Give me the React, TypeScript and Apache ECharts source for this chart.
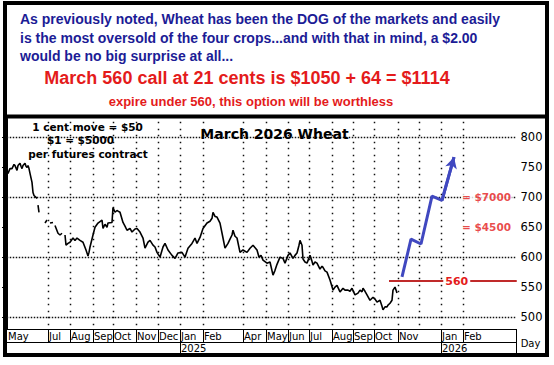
import React, { useEffect, useRef } from 'react';
import * as echarts from 'echarts';

// ---- data ----
const monthLabels = ['May', 'Jul', 'Aug', 'Sep', 'Oct', 'Nov', 'Dec', 'Jan', 'Feb', 'Apr', 'May', 'Jun', 'Jul', 'Aug', 'Sep', 'Oct', 'Nov', 'Jan', 'Feb'];
const monthStarts = [0, 41, 63, 86, 106, 129, 151, 173, 196, 236, 259, 281, 302, 325, 346, 367, 391, 434, 456];
const gridMonths = [41, 63, 86, 106, 129, 151, 173, 196, 236, 259, 281, 302, 325, 346, 367, 391, 412, 434, 456];
const yearLabels = ['2025', '2026'];
const yearStarts = [173, 434];
const priceTicks = [500, 550, 600, 650, 700, 750, 800];
const minorTicks = [480, 490, 500, 510, 520, 530, 540, 550, 560, 570, 580, 590, 600, 610, 620, 630, 640, 650, 660, 670, 680, 690, 700, 710, 720, 730, 740, 750, 760, 770, 780, 790, 800, 810, 820, 830];
const gridPrices = [500, 600, 700, 800];

// trading-day index and price (cents); null = no trade printed (thin early market)
const dayIdx = [0, 1, 3, 5, 7, 8, 10, 11, 13, 14, 15, 16, 18, 19, 20, 21, 22, 23, 25, 26, 27, 29, 30, 30, 31, 32, 33, 36, 37, 38, 40, 41, 43, 46, 47, 48, 51, 53, 55, 56, 58, 59, 61, 63, 66, 68, 70, 73, 76, 79, 81, 82, 83, 86, 88, 91, 95, 96, 98, 100, 101, 105, 106, 108, 110, 111, 113, 116, 118, 120, 123, 125, 128, 130, 133, 136, 138, 141, 143, 146, 148, 150, 153, 156, 158, 161, 165, 168, 171, 175, 178, 181, 185, 188, 190, 193, 196, 200, 203, 205, 206, 208, 210, 213, 216, 218, 221, 223, 225, 226, 228, 230, 233, 236, 240, 243, 246, 250, 252, 254, 256, 260, 263, 266, 268, 270, 273, 276, 278, 281, 283, 286, 288, 290, 292, 293, 295, 296, 298, 300, 303, 305, 306, 308, 310, 313, 315, 316, 318, 320, 323, 326, 328, 330, 333, 336, 338, 341, 343, 345, 348, 351, 353, 355, 356, 358, 360, 363, 366, 368, 370, 373, 375, 376, 378, 380, 381, 383, 385, 386, 388, 389, 390];
const settle = [742, 740, 748, 748, 755, 753, 745, 753, 757, 752, 748, 753, 757, 752, 750, 753, 748, 740, 725, 708, 703, 700, 698, null, 687, 675, null, 662, null, 657, 662, null, 657, 658, null, 653, 640, 637, 640, null, 637, 620, 623, 625, 632, 628, 632, 628, 625, 612, 602, 608, 617, 637, 650, 657, 662, 648, 655, 650, 657, 658, 683, 675, 678, 677, 675, 658, 652, 645, 648, 642, 647, 648, 642, 632, 615, 625, 628, 620, 617, 608, 600, 617, 623, 612, 603, 598, 607, 608, 600, 615, 623, 632, 623, 633, 648, 657, 660, 665, 675, 668, 667, 657, 632, 615, 623, 630, 637, 645, 635, 632, 608, 612, 608, 615, 620, 612, 600, 603, 595, 590, 592, 570, 578, 588, 600, 598, 590, 603, 607, 598, 603, 607, 620, 628, 620, 597, 592, 590, 603, 593, 587, 592, 590, 580, 585, 583, 577, 575, 562, 545, 550, 553, 542, 548, 545, 545, 543, 548, 537, 540, 545, 542, 548, 543, 537, 528, 533, 530, 525, 528, 518, 512, 517, 517, 520, 523, 528, 545, 550, 545, 540];

const projIdx = [395, 404, 414, 425, 435, 447];
const projVal = [567, 630, 622, 702, 695, 767];

const strike = 560;
const strikeFrom = 382;
const costLevels = [700, 650];
const costLabels = ['= $7000', '= $4500'];

const X_MAX = 509.5;
const Y_MIN = 480;
const Y_MAX = 831.67;

export default function App() {
  const ref = useRef<HTMLDivElement>(null);
  useEffect(() => {
    document.body.style.margin = '0';
    const chart = echarts.init(ref.current!, null, { renderer: 'svg' });
    const DJ = 'DejaVu Sans';
    const LS = 'Liberation Sans, Arial, sans-serif';
    const RED = '#e41b1b';
    const BLUE_TXT = '#1c1c96';
    const ARROW = '#4048c0';

    // dotted guide drawn as a row/column of small squares
    const dots = (x1: number, y1: number, x2: number, y2: number, step: number) => {
      const children: any[] = [];
      const len = Math.hypot(x2 - x1, y2 - y1);
      const n = Math.floor(len / step);
      for (let k = 0; k <= n; k++) {
        const t = n === 0 ? 0 : (k * step) / len;
        children.push({
          type: 'rect',
          shape: { x: Math.floor(x1 + (x2 - x1) * t) - 0.25, y: Math.floor(y1 + (y2 - y1) * t) - 0.25, width: 1.5, height: 1.5 },
          style: { fill: '#111' },
        });
      }
      return { type: 'group', children };
    };

    const option: any = {
      animation: false,
      grid: { left: 7, top: 118.5, width: X_MAX, height: 210.5, containLabel: false },
      xAxis: [
        {
          type: 'value', min: 0, max: X_MAX, position: 'bottom',
          axisLine: { show: true, lineStyle: { color: '#000', width: 1 } },
          axisTick: { show: true, customValues: monthStarts.slice(1), length: 13, inside: false, lineStyle: { color: '#000', width: 1 } },
          axisLabel: {
            show: true, customValues: monthStarts,
            formatter: (v: number) => monthLabels[monthStarts.indexOf(v)] ?? '',
            align: 'left', margin: 2, padding: [0, 0, 0, 1],
            fontFamily: DJ, fontSize: 10, color: '#000',
          },
          splitLine: { show: false },
        },
        {
          type: 'value', min: 0, max: X_MAX, position: 'bottom', offset: 13,
          axisLine: { show: true, lineStyle: { color: '#000', width: 1 } },
          axisTick: { show: true, customValues: yearStarts, length: 11, inside: false, lineStyle: { color: '#000', width: 1 } },
          axisLabel: {
            show: true, customValues: yearStarts,
            formatter: (v: number) => yearLabels[yearStarts.indexOf(v)] ?? '',
            align: 'left', margin: 1, padding: [0, 0, 0, 1],
            fontFamily: DJ, fontSize: 10, color: '#000',
          },
          splitLine: { show: false },
        },
      ],
      yAxis: [
        {
          type: 'value', min: Y_MIN, max: Y_MAX, position: 'right',
          axisLine: { show: true, lineStyle: { color: '#000', width: 1 } },
          axisTick: { show: true, inside: true, length: 5, customValues: priceTicks, lineStyle: { color: '#000' } },
          axisLabel: { show: true, customValues: priceTicks, margin: 4, fontFamily: DJ, fontSize: 11.5, color: '#000' },
          splitLine: { show: false },
        },
        {
          type: 'value', min: Y_MIN, max: Y_MAX, position: 'right',
          axisLine: { show: false },
          axisTick: { show: true, inside: true, length: 3, customValues: minorTicks, lineStyle: { color: '#000' } },
          axisLabel: { show: false },
          splitLine: { show: false },
        },
      ],
      series: [
        {
          type: 'custom', name: 'hgrid', z: 2, silent: true,
          data: gridPrices.map((v) => [0, v]),
          renderItem: (_p: any, api: any) => {
            const a = api.coord([0, api.value(1)]);
            const b = api.coord([X_MAX, api.value(1)]);
            return dots(a[0], a[1], b[0] - 2, b[1], 3);
          },
        },
        {
          type: 'custom', name: 'vgrid', z: 2, silent: true,
          data: gridMonths.map((m) => [m, Y_MIN]),
          renderItem: (_p: any, api: any) => {
            const a = api.coord([api.value(0), Y_MIN]);
            const b = api.coord([api.value(0), Y_MAX]);
            return dots(a[0], b[1] + 4, a[0], a[1] - 1, 6.5);
          },
        },
        {
          type: 'line', name: 'March 2026 Wheat',
          data: dayIdx.map((d, i) => [d, settle[i]]),
          symbol: 'none', z: 3, connectNulls: false,
          lineStyle: { color: '#000', width: 1.6 },
        },
        {
          type: 'line', name: 'strike',
          data: [[strikeFrom, strike], [X_MAX, strike]],
          symbol: 'none', z: 4,
          lineStyle: { color: '#c02a2a', width: 2 },
          markLine: {
            silent: true, symbol: 'none', z: 6,
            lineStyle: { color: '#c02a2a', width: 2, type: 'solid' },
            data: [[{ coord: [strikeFrom + 8, strike] }, { coord: [X_MAX, strike] }]],
            label: {
              show: true, position: 'middle', distance: 0, verticalAlign: 'middle', opacity: 1,
              formatter: String(strike), color: RED, fontWeight: 'bold', fontFamily: DJ, fontSize: 11,
              backgroundColor: '#fff', padding: [1, 2],
            },
          },
        },
        {
          type: 'line', name: 'projection',
          data: projIdx.map((d, i) => [d, projVal[i]]),
          symbol: 'none', z: 5,
          lineStyle: { color: ARROW, width: 3 },
          markLine: {
            silent: true, z: 5,
            data: [
              [
                { coord: [projIdx[4], projVal[4]], symbol: 'none' },
                { coord: [projIdx[5], projVal[5]], symbol: 'arrow', symbolSize: [9, 11] },
              ],
            ],
            lineStyle: { color: ARROW, width: 3, type: 'solid' },
            label: { show: false },
          },
        },
        {
          type: 'scatter', name: 'cost',
          data: costLevels.map((v) => [X_MAX - 0.5, v]),
          symbolSize: 0, z: 6,
          label: {
            show: true, position: 'left', distance: 4,
            formatter: (p: any) => costLabels[p.dataIndex],
            color: RED, fontWeight: 'bold', fontFamily: DJ, fontSize: 10.5,
            backgroundColor: '#fff', padding: [0, 1],
          },
        },
      ],
      graphic: [
        { type: 'rect', z: 100, shape: { x: 5, y: 3, width: 542, height: 352 }, style: { fill: 'none', stroke: '#000', lineWidth: 4 } },
        { type: 'line', z: 100, shape: { x1: 5, y1: 116.5, x2: 547, y2: 116.5 }, style: { stroke: '#000', lineWidth: 4 } },
        { type: 'line', z: 100, shape: { x1: 516.5, y1: 329, x2: 516.5, y2: 354 }, style: { stroke: '#000', lineWidth: 1 } },
        { type: 'text', z: 100, x: 20, y: 19, style: { text: 'As previously noted, Wheat has been the DOG of the markets and easily', font: 'bold 14px ' + LS, fill: BLUE_TXT, align: 'left', verticalAlign: 'middle' } },
        { type: 'text', z: 100, x: 20, y: 37.5, style: { text: 'is the most oversold of the four crops...and with that in mind, a $2.00', font: 'bold 14px ' + LS, fill: BLUE_TXT, align: 'left', verticalAlign: 'middle' } },
        { type: 'text', z: 100, x: 20, y: 56, style: { text: 'would be no big surprise at all...', font: 'bold 14px ' + LS, fill: BLUE_TXT, align: 'left', verticalAlign: 'middle' } },
        { type: 'text', z: 100, x: 247, y: 78, style: { text: 'March 560 call at 21 cents is $1050 + 64 = $1114', font: 'bold 18px ' + LS, fill: RED, align: 'center', verticalAlign: 'middle' } },
        { type: 'text', z: 100, x: 251, y: 101, style: { text: 'expire under 560, this option will be worthless', font: 'bold 13px ' + LS, fill: RED, align: 'center', verticalAlign: 'middle' } },
        { type: 'text', z: 100, x: 87.5, y: 126.5, style: { text: '1 cent move = $50', font: 'bold 10.5px ' + DJ, fill: '#000', align: 'center', verticalAlign: 'middle' } },
        { type: 'text', z: 100, x: 80.5, y: 140, style: { text: '$1 = $5000', font: 'bold 10.5px ' + DJ, fill: '#000', align: 'center', verticalAlign: 'middle' } },
        { type: 'text', z: 100, x: 88, y: 154, style: { text: 'per futures contract', font: 'bold 10.5px ' + DJ, fill: '#000', align: 'center', verticalAlign: 'middle' } },
        { type: 'text', z: 100, x: 274.5, y: 134, style: { text: 'March 2026 Wheat', font: 'bold 14px ' + DJ, fill: '#000', align: 'center', verticalAlign: 'middle' } },
        { type: 'text', z: 100, x: 530.5, y: 343, style: { text: 'Day', font: '10px ' + DJ, fill: '#000', align: 'center', verticalAlign: 'middle' } },
      ],
    };
    chart.setOption(option);
    return () => chart.dispose();
  }, []);
  return <div ref={ref} style={{ position: 'fixed', left: 0, top: 0, width: 554, height: 365, background: '#fff' }} />;
}
